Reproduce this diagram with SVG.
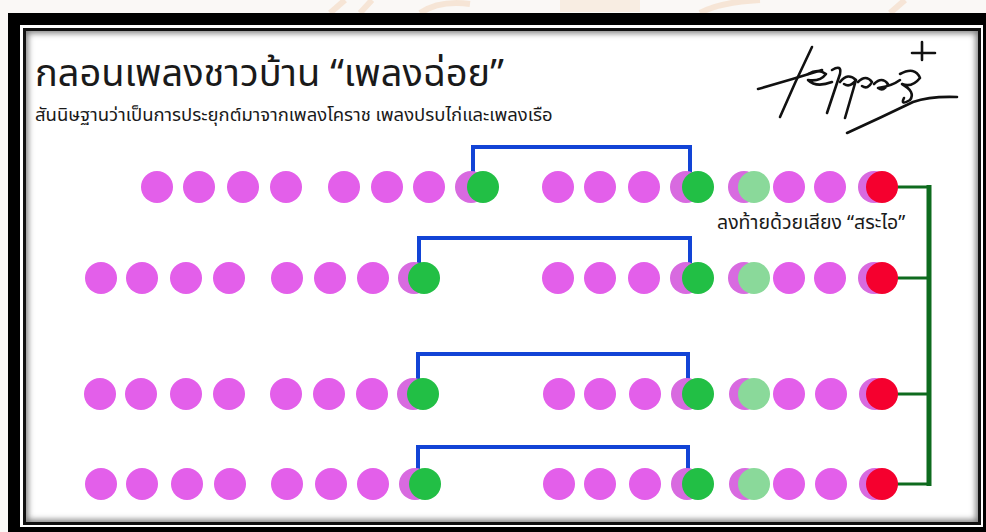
<svg xmlns="http://www.w3.org/2000/svg" width="986" height="532" viewBox="0 0 986 532">
<style>
.p{fill:#E35FEA}
.pd{fill:#D86AE0}
.g{fill:#22BF45}
.lg{fill:#8AD99A}
.r{fill:#F5002E}
.blue{fill:none;stroke:#1244D6;stroke-width:4}
.dg{fill:none;stroke:#0E6B1E;stroke-width:3}
.th{font-family:'Noto Sans Thai','Loma','Tahoma','Garuda','DejaVu Sans',sans-serif;fill:#1a1a1a}
.sig{fill:none;stroke:#111;stroke-width:2.6;stroke-linecap:round;stroke-linejoin:round}
</style>
<defs>
<filter id="blur" x="-5%" y="-5%" width="110%" height="110%"><feGaussianBlur stdDeviation="3"/></filter>
<clipPath id="inner"><rect x="26" y="31" width="952" height="491"/></clipPath>
</defs>
<rect x="0" y="0" width="986" height="532" fill="#FAF8F6"/>
<g opacity="0.22" fill="none" stroke="#E9A66A" stroke-width="6">
<path d="M330 13 L345 0 M360 13 L372 0"/>
<rect x="560" y="-4" width="80" height="16" fill="#F2C9A0" stroke="none"/>
<path d="M420 13 Q440 0 470 4 M700 13 Q720 2 760 0 M890 13 L905 0"/>
</g>
<rect x="8" y="13" width="990" height="530" fill="#000"/>
<rect x="20" y="25" width="963" height="502" fill="#fff"/>
<g clip-path="url(#inner)">
<rect x="26" y="31" width="952" height="491" fill="#fff"/>
<rect x="24" y="29" width="956" height="495" fill="none" stroke="#777" stroke-width="8" filter="url(#blur)"/>
</g>
<rect x="24.5" y="29.5" width="955" height="494" fill="none" stroke="#111" stroke-width="3"/>

<g id="title">
<text class="th" x="35" y="86" font-size="38">กลอนเพลงชาวบ้าน “เพลงฉ่อย”</text>
<text class="th" x="35" y="121" font-size="18.5">สันนิษฐานว่าเป็นการประยุกต์มาจากเพลงโคราช เพลงปรบไก่และเพลงเรือ</text>
</g>

<g id="signature" class="sig">
<path d="M758 89 Q790 80 822 70"/>
<path d="M812 47 Q795 82 780 117"/>
<path d="M808 74 Q818 68 826 74 Q820 82 808 80 Q816 88 832 82"/>
<path d="M832 70 Q842 64 840 74 L827 113"/>
<path d="M840 82 Q848 72 856 80 Q850 88 844 84 M856 80 L845 118"/>
<path d="M858 82 Q866 74 872 82 Q868 90 862 86"/>
<path d="M874 84 Q882 76 888 84 Q884 92 878 88 Q892 86 900 80"/>
<path d="M900 74 Q915 66 920 78 Q912 88 902 84 Q916 92 910 100 Q900 106 904 98"/>
<path d="M847 133 Q880 118 913 102 Q930 96 957 97"/>
<path d="M922 42 L922 60 M912 53 L935 53"/>
</g>

<g id="connectors">
<path class="blue" d="M473 187 V147 H690 V187"/>
<path class="blue" d="M419 278 V238 H690 V278"/>
<path class="blue" d="M418 394 V354 H688 V394"/>
<path class="blue" d="M418 484 V447 H688 V484"/>
<path class="dg" d="M890 187 H929 M890 278 H929 M890 394 H929 M890 484 H929"/>
<path fill="none" stroke="#0E6B1E" stroke-width="5" d="M929 185 V486"/>
</g>

<g id="label">
<text class="th" x="717" y="229" font-size="19.5">ลงท้ายด้วยเสียง “สระไอ”</text>
</g>

<g id="row1">
<circle class="p" cx="157" cy="187" r="16"/><circle class="p" cx="199" cy="187" r="16"/><circle class="p" cx="243" cy="187" r="16"/><circle class="p" cx="286" cy="187" r="16"/>
<circle class="p" cx="344" cy="187" r="16"/><circle class="p" cx="387" cy="187" r="16"/><circle class="p" cx="429" cy="187" r="16"/>
<circle class="pd" cx="471" cy="187" r="16"/><circle class="g" cx="483" cy="187" r="16"/>
<circle class="p" cx="558" cy="187" r="16"/><circle class="p" cx="600" cy="187" r="16"/><circle class="p" cx="644" cy="187" r="16"/>
<circle class="pd" cx="686" cy="187" r="16"/><circle class="g" cx="698" cy="187" r="16"/>
<circle class="pd" cx="744" cy="187" r="16"/><circle class="lg" cx="754" cy="187" r="16"/>
<circle class="p" cx="789" cy="187" r="16"/><circle class="p" cx="830" cy="187" r="16"/>
<circle class="pd" cx="874" cy="187" r="16"/><circle class="r" cx="882" cy="187" r="16"/>
</g>
<g id="row2">
<circle class="p" cx="101" cy="278" r="16"/><circle class="p" cx="142" cy="278" r="16"/><circle class="p" cx="186" cy="278" r="16"/><circle class="p" cx="229" cy="278" r="16"/>
<circle class="p" cx="287" cy="278" r="16"/><circle class="p" cx="330" cy="278" r="16"/><circle class="p" cx="373" cy="278" r="16"/>
<circle class="pd" cx="414" cy="278" r="16"/><circle class="g" cx="424" cy="278" r="16"/>
<circle class="p" cx="558" cy="278" r="16"/><circle class="p" cx="600" cy="278" r="16"/><circle class="p" cx="644" cy="278" r="16"/>
<circle class="pd" cx="686" cy="278" r="16"/><circle class="g" cx="698" cy="278" r="16"/>
<circle class="pd" cx="744" cy="278" r="16"/><circle class="lg" cx="754" cy="278" r="16"/>
<circle class="p" cx="789" cy="278" r="16"/><circle class="p" cx="830" cy="278" r="16"/>
<circle class="pd" cx="874" cy="278" r="16"/><circle class="r" cx="882" cy="278" r="16"/>
</g>
<g id="row3">
<circle class="p" cx="100" cy="394" r="16"/><circle class="p" cx="141" cy="394" r="16"/><circle class="p" cx="186" cy="394" r="16"/><circle class="p" cx="229" cy="394" r="16"/>
<circle class="p" cx="286" cy="394" r="16"/><circle class="p" cx="329" cy="394" r="16"/><circle class="p" cx="372" cy="394" r="16"/>
<circle class="pd" cx="413" cy="394" r="16"/><circle class="g" cx="423" cy="394" r="16"/>
<circle class="p" cx="559" cy="394" r="16"/><circle class="p" cx="600" cy="394" r="16"/><circle class="p" cx="645" cy="394" r="16"/>
<circle class="pd" cx="687" cy="394" r="16"/><circle class="g" cx="698" cy="394" r="16"/>
<circle class="pd" cx="745" cy="394" r="16"/><circle class="lg" cx="754" cy="394" r="16"/>
<circle class="p" cx="789" cy="394" r="16"/><circle class="p" cx="831" cy="394" r="16"/>
<circle class="pd" cx="875" cy="394" r="16"/><circle class="r" cx="882" cy="394" r="16"/>
</g>
<g id="row4">
<circle class="p" cx="101" cy="484" r="16"/><circle class="p" cx="142" cy="484" r="16"/><circle class="p" cx="187" cy="484" r="16"/><circle class="p" cx="230" cy="484" r="16"/>
<circle class="p" cx="287" cy="484" r="16"/><circle class="p" cx="331" cy="484" r="16"/><circle class="p" cx="373" cy="484" r="16"/>
<circle class="pd" cx="415" cy="484" r="16"/><circle class="g" cx="425" cy="484" r="16"/>
<circle class="p" cx="559" cy="484" r="16"/><circle class="p" cx="600" cy="484" r="16"/><circle class="p" cx="645" cy="484" r="16"/>
<circle class="pd" cx="687" cy="484" r="16"/><circle class="g" cx="698" cy="484" r="16"/>
<circle class="pd" cx="745" cy="484" r="16"/><circle class="lg" cx="754" cy="484" r="16"/>
<circle class="p" cx="789" cy="484" r="16"/><circle class="p" cx="831" cy="484" r="16"/>
<circle class="pd" cx="875" cy="484" r="16"/><circle class="r" cx="882" cy="484" r="16"/>
</g>
</svg>
